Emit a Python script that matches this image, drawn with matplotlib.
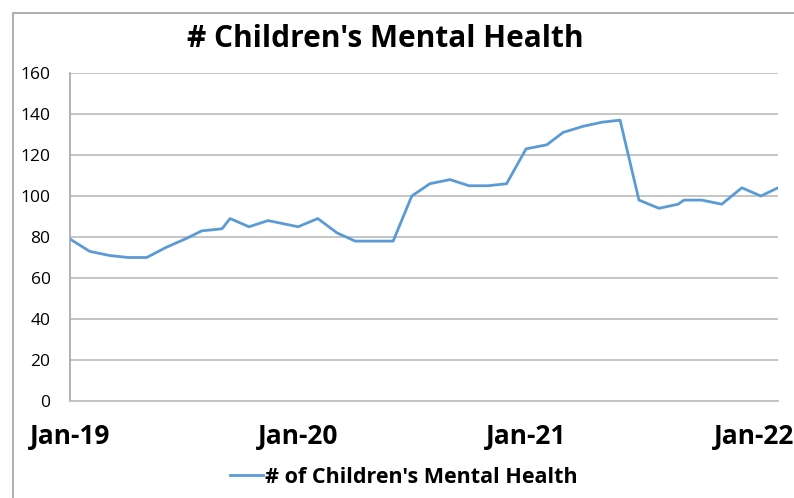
import matplotlib
matplotlib.use("Agg")
import matplotlib.pyplot as plt
from matplotlib.patches import Rectangle
from matplotlib.lines import Line2D
from matplotlib import font_manager

# Reporting points, in months after Jan 2019
months = [0.0, 1.0, 2.0, 2.95, 3.9, 4.9, 5.85, 6.7, 7.73, 8.14, 9.1, 10.07,
          11.6, 12.6, 13.58, 14.5, 15.46, 16.43, 17.38, 18.3, 19.32, 20.29,
          21.25, 22.2, 23.19, 24.25, 25.07, 26.09, 27.05, 27.97, 28.93, 29.95,
          30.92, 31.22, 32.12, 33.14, 34.16, 35.13, 36.0]
counts = [79, 73, 71, 70, 70, 75, 79, 83, 84, 89, 85, 88,
          85, 89, 82, 78, 78, 78, 100, 106, 108, 105,
          105, 106, 123, 125, 131, 134, 136, 137, 98, 94,
          96, 98, 98, 96, 104, 100, 104]

year_ticks = [0.0, 11.6, 23.2, 34.8]
year_labels = ["Jan-19", "Jan-20", "Jan-21", "Jan-22"]
y_ticks = [0, 20, 40, 60, 80, 100, 120, 140, 160]

series_name = "# of Children's Mental Health"
title = "# Children's Mental Health"

available = {f.name for f in font_manager.fontManager.ttflist}
narrow = "Liberation Sans Narrow" if "Liberation Sans Narrow" in available else "Open Sans"
plt.rcParams["font.family"] = [narrow, "DejaVu Sans"]

W, H = 794, 498
fig = plt.figure(figsize=(W / 100, H / 100), dpi=100)
fig.patch.set_facecolor("white")

# chart frame
fig.patches.append(Rectangle((12.5 / W, -0.1), 1.2, 1.1 - 13.5 / H,
                             transform=fig.transFigure, fill=False,
                             edgecolor="#a0a0a0", linewidth=1.2))

ax = fig.add_axes([70 / W, 97 / H, 708 / W, 328 / H])
ax.plot(months, counts, color="#5B9BD5", linewidth=2.0, solid_joinstyle="round")

ax.set_xlim(0, 36)
ax.set_ylim(0, 160)
ax.set_yticks(y_ticks)
ax.set_yticklabels([str(v) for v in y_ticks], fontsize=12.5, family="Open Sans")
ax.set_xticks(year_ticks)
ax.set_xticklabels(year_labels, fontsize=19, fontweight="bold")
ax.tick_params(axis="y", length=0, pad=14)
ax.tick_params(axis="x", length=0, pad=16)

ax.grid(axis="y", color="#c0c0c0", linewidth=1.3)
ax.set_axisbelow(True)
for side in ("top", "right"):
    ax.spines[side].set_visible(False)
ax.spines["left"].set_color("#a6a6a6")
ax.spines["bottom"].set_color("#c0c0c0")
ax.spines["left"].set_linewidth(1.2)
ax.spines["bottom"].set_linewidth(1.3)

fig.text(385 / W, 1 - 39 / H, title, ha="center", va="center",
         fontsize=21.5, fontweight="bold")

handle = Line2D([], [], color="#5B9BD5", linewidth=2.0)
fig.legend([handle], [series_name], loc="center", bbox_to_anchor=(404 / W, 1 - 477 / H),
           frameon=False, prop={"size": 15.5, "weight": "bold", "family": [narrow, "DejaVu Sans"]},
           handlelength=1.5, handletextpad=0.1)

fig.savefig("out.png", dpi=100)
